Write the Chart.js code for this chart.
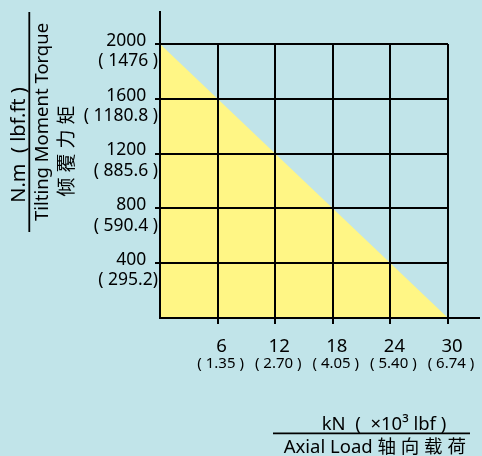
<!DOCTYPE html>
<html>
<head>
<meta charset="utf-8">
<script src="https://cdn.jsdelivr.net/npm/chart.js@4.4.1/dist/chart.umd.min.js"></script>
<style>
html,body{margin:0;padding:0;background:#c1e4e9;}
canvas{display:block;}
</style>
</head>
<body>
<canvas id="c" width="482" height="456"></canvas>
<script>
// ---- data ----
const loadKN = [0, 30];
const torqueNm = [2000, 0];
const xTicks = [0, 6, 12, 18, 24, 30];
const xTickKN = ['', '6', '12', '18', '24', '30'];
const xTickLbf = ['', '( 1.35 )', '( 2.70 )', '( 4.05 )', '( 5.40 )', '( 6.74 )'];
const yTicks = [0, 400, 800, 1200, 1600, 2000];
const yTickNm = ['', '400', '800', '1200', '1600', '2000'];
const yTickLbfFt = ['', '( 295.2)', '( 590.4 )', '( 885.6 )', '( 1180.8 )', '( 1476 )'];
const yTitleUnit = 'N.m  ( lbf.ft )';
const yTitleEn = 'Tilting Moment Torque';
const yTitleZh = '倾 覆 力 矩';
const xTitleUnit = 'kN  (  ×10³ lbf )';
const xTitleEn = 'Axial Load 轴 向 载 荷';

// ---- style ----
const BG = '#c1e4e9';
const YELLOW = '#fff685';
const INK = '#000000';
const FAMILY = '"Noto Sans", "Noto Sans CJK SC", sans-serif';
const hideZero = c => (c.tick && c.tick.value === 0) ? 'rgba(0,0,0,0)' : INK;

const background = {
  id: 'background',
  beforeDraw(chart) {
    const {ctx, width, height} = chart;
    ctx.save();
    ctx.fillStyle = BG;
    ctx.fillRect(0, 0, width, height);
    ctx.restore();
  }
};

const axisExtend = {
  id: 'axisExtend',
  afterDraw(chart, args, o) {
    const {ctx, chartArea: a} = chart;
    const yb = Math.round(chart.scales.y.getPixelForValue(0));
    const xl = Math.round(chart.scales.x.getPixelForValue(0));
    ctx.save();
    ctx.strokeStyle = INK;
    ctx.lineWidth = 2;
    ctx.beginPath();
    ctx.moveTo(a.right, yb);
    ctx.lineTo(a.right + o.right, yb);
    ctx.moveTo(xl, a.top);
    ctx.lineTo(xl, a.top - o.top);
    ctx.stroke();
    ctx.restore();
  }
};

const fractionTitles = {
  id: 'fractionTitles',
  afterDraw(chart, args, o) {
    const ctx = chart.ctx;
    ctx.save();
    ctx.fillStyle = INK;
    ctx.strokeStyle = INK;
    ctx.textAlign = 'center';
    ctx.textBaseline = 'alphabetic';
    const rot = (text, size, bx, cy) => {
      ctx.save();
      ctx.translate(bx, cy);
      ctx.rotate(-Math.PI / 2);
      ctx.font = size + 'px ' + FAMILY;
      ctx.fillText(text, 0, 0);
      ctx.restore();
    };
    const hor = (text, size, cx, by) => {
      ctx.font = size + 'px ' + FAMILY;
      ctx.fillText(text, cx, by);
    };
    // y title (rotated fraction)
    rot(yTitleUnit, 20, 24.5, 145);
    rot(yTitleEn, 18.5, 47.7, 122);
    rot(yTitleZh, 19, 73, 151);
    ctx.lineWidth = 1.8;
    ctx.beginPath();
    ctx.moveTo(29.3, 12);
    ctx.lineTo(29.3, 232);
    // x title (fraction)
    ctx.moveTo(273, 433.3);
    ctx.lineTo(470, 433.3);
    ctx.stroke();
    hor(xTitleUnit, 18.5, 384, 429.5);
    hor(xTitleEn, 18.5, 374.8, 452.7);
    ctx.restore();
  }
};

new Chart(document.getElementById('c'), {
  type: 'line',
  data: {
    datasets: [{
      data: loadKN.map((x, i) => ({x: x, y: torqueNm[i]})),
      fill: 'origin',
      backgroundColor: YELLOW,
      borderWidth: 0,
      pointRadius: 0,
      tension: 0
    }]
  },
  options: {
    responsive: false,
    animation: false,
    events: [],
    layout: {padding: {top: 44, right: 34, left: 0, bottom: 0}},
    plugins: {
      legend: {display: false},
      tooltip: {enabled: false},
      axisExtend: {right: 32, top: 33}
    },
    scales: {
      x: {
        type: 'linear', min: 0, max: 30, position: 'bottom',
        afterBuildTicks: s => { s.ticks = xTicks.map(v => ({value: v})); },
        afterFit: s => { s.height = 35; },
        grid: {color: hideZero, tickColor: hideZero, lineWidth: 2, tickLength: 6, z: 1},
        border: {color: INK, width: 2, z: 1},
        ticks: {
          callback: (v, i) => xTickKN[i],
          font: {family: FAMILY, size: 18.5},
          color: INK, padding: 12, labelOffset: 4, maxRotation: 0, autoSkip: false, z: 1
        }
      },
      x2: {
        type: 'linear', axis: 'x', min: 0, max: 30, position: 'bottom',
        afterBuildTicks: s => { s.ticks = xTicks.map(v => ({value: v})); },
        afterFit: s => { s.height = 103; },
        grid: {display: false, drawTicks: false, tickLength: 0},
        border: {display: false},
        ticks: {
          callback: (v, i) => xTickLbf[i],
          font: {family: FAMILY, size: 15},
          color: INK, padding: 2, labelOffset: 3, maxRotation: 0, autoSkip: false
        }
      },
      y: {
        type: 'linear', min: 0, max: 2000, position: 'left',
        afterBuildTicks: s => { s.ticks = yTicks.map(v => ({value: v})); },
        afterFit: s => { s.width = 160; },
        grid: {color: hideZero, tickColor: hideZero, lineWidth: 2, tickLength: 5, z: 1},
        border: {color: INK, width: 2, z: 1},
        ticks: {
          callback: (v, i) => i === 0 ? '' : [yTickNm[i] + '\u2002\u2009', yTickLbfFt[i]],
          font: {family: FAMILY, size: 17.5, lineHeight: 1.16},
          color: INK, padding: -3, labelOffset: 7, autoSkip: false, z: 1
        }
      }
    }
  },
  plugins: [background, axisExtend, fractionTitles]
});
</script>
</body>
</html>
